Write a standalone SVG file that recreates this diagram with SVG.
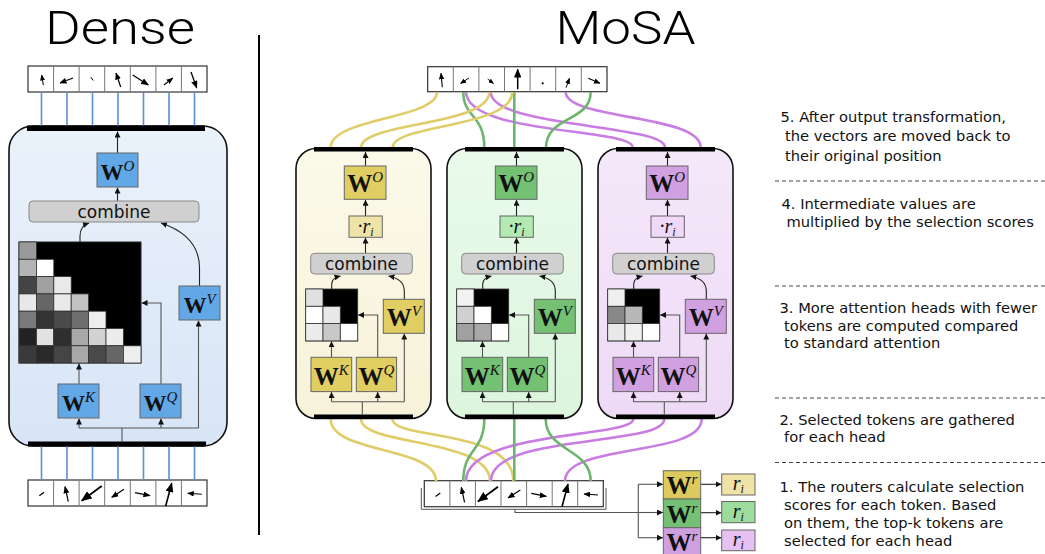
<svg xmlns="http://www.w3.org/2000/svg" xmlns:xlink="http://www.w3.org/1999/xlink" width="1045" height="554" viewBox="0 0 1045 554">
  <style>
    .title{font-family:Roboto,"Open Sans","Liberation Sans",sans-serif;font-weight:300;font-size:47px;text-anchor:middle;fill:#000}
    .cell{fill:#fff;stroke:#333;stroke-width:1.2}
    .div{stroke:#777;stroke-width:1}
    .ta{stroke:#000;fill:none;marker-end:url(#th)}
    .tn{stroke:#000;fill:none}
    .ln{stroke:#555;stroke-width:1.1;fill:none}
    .lk{stroke:#222;stroke-width:1.1;fill:none}
    .arr{marker-end:url(#sh)}
    .bar{fill:#000}
    .wb{stroke:#666;stroke-width:1}
    .wt{font-family:"Liberation Serif","DejaVu Serif",serif;font-weight:bold;font-size:25px;text-anchor:middle;fill:#111}
    .wd{font-size:23px}
    .sup{font-style:italic;font-weight:normal;font-size:15px}
    .rt{font-family:"Liberation Serif","DejaVu Serif",serif;font-style:italic;font-size:20px;text-anchor:middle;fill:#111}
    .sub{font-size:12px}
    .cmb{fill:#d0d0d0;stroke:#888;stroke-width:1}
    .ct{font-family:"DejaVu Sans",Verdana,sans-serif;font-size:17px;text-anchor:middle;fill:#111}
    .mc{stroke:#333;stroke-width:0.8}
    .note{font-family:"DejaVu Sans",Verdana,sans-serif;font-size:14.7px;fill:#111}
    .dash{stroke:#444;stroke-width:1;stroke-dasharray:4 3}
    .blue{stroke:#5b8ed8;stroke-width:1.6}
    .cy{stroke:#e0cc68;stroke-width:2.6;fill:none}
    .cg{stroke:#6cb56c;stroke-width:2.6;fill:none}
    .cp{stroke:#c97de2;stroke-width:2.6;fill:none}
    .wblue{fill:#62a7e6}
    .wy{fill:#e0ce62}
    .wg{fill:#74c174}
    .wp{fill:#d0a0e0}
  </style>
  <defs>
    <marker id="th" viewBox="0 0 6 5" refX="5.5" refY="2.5" markerWidth="6" markerHeight="5" orient="auto" markerUnits="strokeWidth">
      <path d="M0,0 L6,2.5 L0,5 z" fill="#000"/>
    </marker>
    <marker id="sh" viewBox="0 0 6 6" refX="6" refY="3" markerWidth="6" markerHeight="6" orient="auto" markerUnits="userSpaceOnUse">
      <path d="M0,0 L6,3 L0,6 z" fill="#111"/>
    </marker>
    <linearGradient id="gBlue" x1="0" y1="0" x2="0" y2="1">
      <stop offset="0" stop-color="#eaf2fb"/>
      <stop offset="1" stop-color="#d8e5f6"/>
    </linearGradient>
    <linearGradient id="gYel" x1="0" y1="0" x2="0" y2="1">
      <stop offset="0" stop-color="#fbf9e9"/>
      <stop offset="1" stop-color="#f7f2d9"/>
    </linearGradient>
    <linearGradient id="gGrn" x1="0" y1="0" x2="0" y2="1">
      <stop offset="0" stop-color="#eafaeb"/>
      <stop offset="1" stop-color="#dcf5dd"/>
    </linearGradient>
    <linearGradient id="gPur" x1="0" y1="0" x2="0" y2="1">
      <stop offset="0" stop-color="#f5e8fa"/>
      <stop offset="1" stop-color="#eedaf6"/>
    </linearGradient>
    <!-- input token row (7 vectors), local coordinates -->
    <g id="rowIn">
      <rect class="cell" x="0" y="0" width="179" height="26"/>
      <path class="div" d="M25.6,0V26M51.1,0V26M76.7,0V26M102.3,0V26M127.9,0V26M153.4,0V26"/>
      <line class="tn" stroke-width="1.2" x1="16" y1="12.3" x2="11.3" y2="15.7"/>
      <line class="ta" stroke-width="1.2" x1="40.3" y1="21.7" x2="37" y2="6.7"/>
      <line class="ta" stroke-width="1.8" x1="73.7" y1="6" x2="53.7" y2="20.7"/>
      <line class="ta" stroke-width="1.2" x1="96" y1="9.3" x2="83.7" y2="17.3"/>
      <line class="ta" stroke-width="1.2" x1="107" y1="12.7" x2="122" y2="15.7"/>
      <line class="ta" stroke-width="1.6" x1="137.7" y1="26" x2="143.7" y2="3.3"/>
      <line class="ta" stroke-width="1.1" x1="173.7" y1="14.3" x2="159.7" y2="13.3"/>
    </g>
  </defs>

  <rect width="1045" height="554" fill="#fff"/>

  <!-- titles and separator -->
  <text class="title" x="120" y="44" textLength="150" lengthAdjust="spacingAndGlyphs">Dense</text>
  <text class="title" x="625.5" y="44" textLength="140" lengthAdjust="spacingAndGlyphs">MoSA</text>
  <line x1="259" y1="35" x2="259" y2="535" stroke="#000" stroke-width="2"/>

  <!-- ================= Dense attention ================= -->
  <g id="dense-out-tokens">
    <rect class="cell" x="28" y="66" width="179" height="26"/>
    <path class="div" d="M53.6,66V92M79.1,66V92M104.7,66V92M130.3,66V92M155.9,66V92M181.4,66V92"/>
    <line class="ta" stroke-width="1" x1="43.3" y1="85" x2="41.7" y2="75"/>
    <line class="ta" stroke-width="1.2" x1="73" y1="78" x2="60" y2="83"/>
    <line class="tn" stroke-width="1" x1="90.7" y1="77" x2="93.3" y2="80.5"/>
    <line class="ta" stroke-width="1.2" x1="120.7" y1="87" x2="116" y2="73"/>
    <line class="ta" stroke-width="1.3" x1="132.7" y1="75" x2="148.3" y2="85"/>
    <line class="ta" stroke-width="1.1" x1="164" y1="85" x2="172.7" y2="78"/>
    <line class="ta" stroke-width="1.3" x1="191" y1="72" x2="196.7" y2="88"/>
  </g>

  <g id="dense-in-tokens">
    <use xlink:href="#rowIn" x="28" y="480"/>
  </g>

  <g id="dense-block">
    <rect x="9" y="126" width="218" height="320" rx="24" fill="url(#gBlue)" stroke="#111" stroke-width="1.6"/>
    <rect class="bar" x="27" y="125.5" width="178" height="5.5"/>
    <rect class="bar" x="28" y="441.5" width="178" height="5"/>
  </g>

  <g id="dense-inner-links">
    <line class="lk arr" x1="117.5" y1="153" x2="117.5" y2="131.5"/>
    <line class="lk arr" x1="117.5" y1="201" x2="117.5" y2="187.5"/>
    <path class="lk arr" d="M80,242 V236 Q80,226 89,223"/>
    <path class="lk arr" d="M199.5,286 V268 C199.5,246 185,231 161,223"/>
    <line class="ln arr" x1="79" y1="384" x2="79" y2="363.5"/>
    <path class="ln arr" d="M161,384 V303 H141.5"/>
    <path class="ln" d="M122,441.5 V428 M79,428 H198.5"/>
    <path class="ln arr" d="M79,428 V418.5"/>
    <path class="ln arr" d="M161,428 V418.5"/>
    <path class="ln arr" d="M198.5,428 V320.5"/>
  </g>

  <g id="dense-wo">
    <rect class="wb wblue" x="97" y="153" width="41" height="34"/>
    <text class="wt wd" x="117.5" y="180">W<tspan class="sup" dy="-9">O</tspan></text>
  </g>
  <g id="dense-combine">
    <rect class="cmb" x="29" y="201" width="170" height="21" rx="4"/>
    <text class="ct" x="114" y="217.5">combine</text>
  </g>
  <g id="dense-scores">
    <rect x="19" y="242" width="122" height="121" fill="#000" stroke="#222" stroke-width="1"/>
    <g class="mc">
      <rect x="19" y="242" width="17.4" height="17.3" fill="#9a9a9a"/>
      <rect x="19" y="259.3" width="17.4" height="17.3" fill="#b4b4b4"/>
      <rect x="36.4" y="259.3" width="17.4" height="17.3" fill="#ffffff"/>
      <rect x="19" y="276.6" width="17.4" height="17.3" fill="#444444"/>
      <rect x="36.4" y="276.6" width="17.4" height="17.3" fill="#a0a0a0"/>
      <rect x="53.8" y="276.6" width="17.4" height="17.3" fill="#e9e9e9"/>
      <rect x="19" y="293.9" width="17.4" height="17.3" fill="#e8e8e8"/>
      <rect x="36.4" y="293.9" width="17.4" height="17.3" fill="#666666"/>
      <rect x="53.8" y="293.9" width="17.4" height="17.3" fill="#e9e9e9"/>
      <rect x="71.2" y="293.9" width="17.4" height="17.3" fill="#c2c2c2"/>
      <rect x="19" y="311.2" width="17.4" height="17.3" fill="#7a7a7a"/>
      <rect x="36.4" y="311.2" width="17.4" height="17.3" fill="#333333"/>
      <rect x="53.8" y="311.2" width="17.4" height="17.3" fill="#4a4a4a"/>
      <rect x="71.2" y="311.2" width="17.4" height="17.3" fill="#6e6e6e"/>
      <rect x="88.6" y="311.2" width="17.4" height="17.3" fill="#eeeeee"/>
      <rect x="19" y="328.5" width="17.4" height="17.3" fill="#222222"/>
      <rect x="36.4" y="328.5" width="17.4" height="17.3" fill="#e2e2e2"/>
      <rect x="53.8" y="328.5" width="17.4" height="17.3" fill="#2e2e2e"/>
      <rect x="71.2" y="328.5" width="17.4" height="17.3" fill="#a8a8a8"/>
      <rect x="88.6" y="328.5" width="17.4" height="17.3" fill="#d2d2d2"/>
      <rect x="106" y="328.5" width="17.4" height="17.3" fill="#ececec"/>
      <rect x="19" y="345.8" width="17.4" height="17.2" fill="#3a3a3a"/>
      <rect x="36.4" y="345.8" width="17.4" height="17.2" fill="#2a2a2a"/>
      <rect x="53.8" y="345.8" width="17.4" height="17.2" fill="#454545"/>
      <rect x="71.2" y="345.8" width="17.4" height="17.2" fill="#a8a8a8"/>
      <rect x="88.6" y="345.8" width="17.4" height="17.2" fill="#4a4a4a"/>
      <rect x="106" y="345.8" width="17.4" height="17.2" fill="#666666"/>
      <rect x="123.4" y="345.8" width="17.6" height="17.2" fill="#eeeeee"/>
    </g>
  </g>
  <g id="dense-wv">
    <rect class="wb wblue" x="179" y="286" width="41" height="34"/>
    <text class="wt wd" x="199.5" y="313">W<tspan class="sup" dy="-9">V</tspan></text>
  </g>
  <g id="dense-wk">
    <rect class="wb wblue" x="58" y="384" width="41" height="34"/>
    <text class="wt wd" x="78.5" y="411">W<tspan class="sup" dy="-9">K</tspan></text>
  </g>
  <g id="dense-wq">
    <rect class="wb wblue" x="140" y="384" width="41" height="34"/>
    <text class="wt wd" x="160.5" y="411">W<tspan class="sup" dy="-9">Q</tspan></text>
  </g>

  <!-- ================= MoSA ================= -->
  <g id="mosa-out-tokens">
    <rect class="cell" x="427.7" y="66.7" width="179.3" height="25"/>
    <path class="div" d="M453.3,66.7V91.7M478.9,66.7V91.7M504.5,66.7V91.7M530.1,66.7V91.7M555.7,66.7V91.7M581.3,66.7V91.7"/>
    <line class="ta" stroke-width="1.1" x1="442.3" y1="87.3" x2="441" y2="73.3"/>
    <line class="ta" stroke-width="1" x1="469" y1="78" x2="460.5" y2="83.5"/>
    <line class="ta" stroke-width="0.9" x1="487.7" y1="79" x2="493.5" y2="83.5"/>
    <line class="ta" stroke-width="1.5" x1="517.7" y1="89.3" x2="517.7" y2="69.3"/>
    <circle cx="542.7" cy="83.3" r="1.1" fill="#000"/>
    <line class="ta" stroke-width="1" x1="566" y1="87.7" x2="569.5" y2="78.3"/>
    <line class="ta" stroke-width="1.1" x1="588.3" y1="78.3" x2="600" y2="83.3"/>
  </g>

  <g id="mosa-in-tokens">
    <path d="M421.3,488 V509.3 H606 V488" fill="none" stroke="#555" stroke-width="1"/>
    <use xlink:href="#rowIn" x="424.3" y="480.7"/>
  </g>

  <!-- token routing between the sequence and the heads -->
  <g id="connectors">
    <line class="blue" x1="41.5" y1="92" x2="41.5" y2="125.5"/>
    <line class="blue" x1="67" y1="92" x2="67" y2="125.5"/>
    <line class="blue" x1="92.5" y1="92" x2="92.5" y2="125.5"/>
    <line class="blue" x1="118" y1="92" x2="118" y2="125.5"/>
    <line class="blue" x1="143.5" y1="92" x2="143.5" y2="125.5"/>
    <line class="blue" x1="169" y1="92" x2="169" y2="125.5"/>
    <line class="blue" x1="194.5" y1="92" x2="194.5" y2="125.5"/>
    <line class="blue" x1="41.5" y1="446.5" x2="41.5" y2="480"/>
    <line class="blue" x1="67" y1="446.5" x2="67" y2="480"/>
    <line class="blue" x1="92.5" y1="446.5" x2="92.5" y2="480"/>
    <line class="blue" x1="118" y1="446.5" x2="118" y2="480"/>
    <line class="blue" x1="143.5" y1="446.5" x2="143.5" y2="480"/>
    <line class="blue" x1="169" y1="446.5" x2="169" y2="480"/>
    <line class="blue" x1="194.5" y1="446.5" x2="194.5" y2="480"/>

    <!-- outputs back to their positions -->
    <path class="cp" d="M466,92 C467,135 632.7,128 632.7,147.5"/>
    <path class="cp" d="M490.7,92 C491,128 665,124 665,147.5"/>
    <path class="cp" d="M565.7,92 C565.7,120 700.7,114 700.7,147.5"/>
    <path class="cg" d="M463.3,92 C463.3,118 484.3,114 484.3,147.5"/>
    <path class="cg" d="M514.3,92 V147.5"/>
    <path class="cg" d="M590.7,92 C590.7,122 546,116 546,147.5"/>
    <path class="cy" d="M437,92 C437,119 330.7,118 330.7,147.5"/>
    <path class="cy" d="M489.3,92 C489.3,126 361,122 361,147.5"/>
    <path class="cy" d="M512.3,92 C512.3,128 392.7,124 392.7,147.5"/>

    <!-- gathered tokens into the heads -->
    <path class="cy" d="M330.7,419 C330.7,454 436,446 436,481"/>
    <path class="cy" d="M361,419 C361,446 490,438 490,481"/>
    <path class="cy" d="M392.3,419 C392.3,440 513.3,428 513.3,481"/>
    <path class="cp" d="M633.3,419 C633.3,438 466,430 466,481"/>
    <path class="cp" d="M664.3,419 C664.3,447 491,433 491,481"/>
    <path class="cp" d="M701.7,419 C701.7,457 565,443 565,481"/>
    <path class="cg" d="M484.3,419 C484.3,452 463.3,448 463.3,481"/>
    <path class="cg" d="M514.3,419 V481"/>
    <path class="cg" d="M545.7,419 C545.7,452 590.7,448 590.7,481"/>

    <!-- router feed -->
    <path class="ln" d="M515,509.3 V512.5 H638.3 M638.3,484.3 V537.7"/>
    <line class="ln arr" x1="638.3" y1="484.3" x2="663" y2="484.3"/>
    <line class="ln arr" x1="638.3" y1="512.5" x2="663" y2="512.5"/>
    <line class="ln arr" x1="638.3" y1="537.7" x2="663" y2="537.7"/>
    <line class="lk arr" x1="700.7" y1="484.3" x2="721.5" y2="484.3"/>
    <line class="lk arr" x1="700.7" y1="512.7" x2="721.5" y2="512.7"/>
    <line class="lk arr" x1="700.7" y1="537.7" x2="721.5" y2="537.7"/>
  </g>

  <!-- head 1 (yellow) -->
  <g id="head-1">
    <rect x="296" y="148.5" width="135" height="270" rx="20" fill="url(#gYel)" stroke="#111" stroke-width="1.6"/>
    <rect class="bar" x="314" y="147" width="99" height="4.5"/>
    <rect class="bar" x="314" y="414.5" width="99" height="4.5"/>
    <line class="lk arr" x1="365.5" y1="166" x2="365.5" y2="152"/>
    <line class="lk arr" x1="365.5" y1="216" x2="365.5" y2="199.8"/>
    <line class="lk arr" x1="365.5" y1="253.3" x2="365.5" y2="237.6"/>
    <path class="lk arr" d="M331.7,289 V284 Q331.7,278 340.5,276"/>
    <path class="lk arr" d="M404.3,299.3 V291 Q404.3,279 388.5,276"/>
    <line class="ln arr" x1="331.5" y1="357.3" x2="331.5" y2="341.2"/>
    <path class="ln arr" d="M377.7,357.3 V315 H358"/>
    <path class="ln" d="M362.3,414.5 V401.7 M331.5,401.7 H404.3"/>
    <path class="ln arr" d="M331.5,401.7 V392"/>
    <path class="ln arr" d="M377.7,401.7 V392"/>
    <path class="ln arr" d="M404.3,401.7 V333.6"/>
    <g id="head-1-wo"><rect class="wb wy" x="344.3" y="166" width="41.7" height="33.3"/>
      <text class="wt" x="365.2" y="192">W<tspan class="sup" dy="-10">O</tspan></text></g>
    <g id="head-1-scale"><rect class="wb" fill="#efe4a8" x="349" y="216" width="33.3" height="21.3"/>
      <text class="rt" x="365.5" y="232.5">·r<tspan class="sub" dy="3">i</tspan></text></g>
    <g id="head-1-combine"><rect class="cmb" x="310.7" y="253.3" width="101.6" height="20.7" rx="4"/>
      <text class="ct" x="361.5" y="269.5">combine</text></g>
    <g id="head-1-scores" class="mc">
      <rect x="305.7" y="289" width="52" height="52" fill="#000"/>
      <rect x="305.7" y="289" width="17.3" height="17.3" fill="#e0e0e0"/>
      <rect x="305.7" y="306.3" width="17.3" height="17.3" fill="#ffffff"/>
      <rect x="323" y="306.3" width="17.3" height="17.3" fill="#e8e8e8"/>
      <rect x="305.7" y="323.6" width="17.3" height="17.3" fill="#ececec"/>
      <rect x="323" y="323.6" width="17.3" height="17.3" fill="#c8c8c8"/>
      <rect x="340.3" y="323.6" width="17.4" height="17.3" fill="#ffffff"/>
    </g>
    <g id="head-1-wv"><rect class="wb wy" x="383.3" y="299.3" width="41" height="34"/>
      <text class="wt" x="403.8" y="326">W<tspan class="sup" dy="-10">V</tspan></text></g>
    <g id="head-1-wk"><rect class="wb wy" x="311" y="357.3" width="40.7" height="34.3"/>
      <text class="wt" x="331.3" y="384.5">W<tspan class="sup" dy="-10">K</tspan></text></g>
    <g id="head-1-wq"><rect class="wb wy" x="356.3" y="357.3" width="40.3" height="34.3"/>
      <text class="wt" x="376.5" y="384.5">W<tspan class="sup" dy="-10">Q</tspan></text></g>
  </g>

  <!-- head 2 (green) -->
  <g id="head-2" transform="translate(151,0)">
    <rect x="296" y="148.5" width="135" height="270" rx="20" fill="url(#gGrn)" stroke="#111" stroke-width="1.6"/>
    <rect class="bar" x="314" y="147" width="99" height="4.5"/>
    <rect class="bar" x="314" y="414.5" width="99" height="4.5"/>
    <line class="lk arr" x1="365.5" y1="166" x2="365.5" y2="152"/>
    <line class="lk arr" x1="365.5" y1="216" x2="365.5" y2="199.8"/>
    <line class="lk arr" x1="365.5" y1="253.3" x2="365.5" y2="237.6"/>
    <path class="lk arr" d="M331.7,289 V284 Q331.7,278 340.5,276"/>
    <path class="lk arr" d="M404.3,299.3 V291 Q404.3,279 388.5,276"/>
    <line class="ln arr" x1="331.5" y1="357.3" x2="331.5" y2="341.2"/>
    <path class="ln arr" d="M377.7,357.3 V315 H358"/>
    <path class="ln" d="M362.3,414.5 V401.7 M331.5,401.7 H404.3"/>
    <path class="ln arr" d="M331.5,401.7 V392"/>
    <path class="ln arr" d="M377.7,401.7 V392"/>
    <path class="ln arr" d="M404.3,401.7 V333.6"/>
    <g id="head-2-wo"><rect class="wb wg" x="344.3" y="166" width="41.7" height="33.3"/>
      <text class="wt" x="365.2" y="192">W<tspan class="sup" dy="-10">O</tspan></text></g>
    <g id="head-2-scale"><rect class="wb" fill="#b3eab3" x="349" y="216" width="33.3" height="21.3"/>
      <text class="rt" x="365.5" y="232.5">·r<tspan class="sub" dy="3">i</tspan></text></g>
    <g id="head-2-combine"><rect class="cmb" x="310.7" y="253.3" width="101.6" height="20.7" rx="4"/>
      <text class="ct" x="361.5" y="269.5">combine</text></g>
    <g id="head-2-scores" class="mc">
      <rect x="305.7" y="289" width="52" height="52" fill="#000"/>
      <rect x="305.7" y="289" width="17.3" height="17.3" fill="#f2f2f2"/>
      <rect x="305.7" y="306.3" width="17.3" height="17.3" fill="#d0d0d0"/>
      <rect x="323" y="306.3" width="17.3" height="17.3" fill="#ffffff"/>
      <rect x="305.7" y="323.6" width="17.3" height="17.3" fill="#a0a0a0"/>
      <rect x="323" y="323.6" width="17.3" height="17.3" fill="#a8a8a8"/>
      <rect x="340.3" y="323.6" width="17.4" height="17.3" fill="#ffffff"/>
    </g>
    <g id="head-2-wv"><rect class="wb wg" x="383.3" y="299.3" width="41" height="34"/>
      <text class="wt" x="403.8" y="326">W<tspan class="sup" dy="-10">V</tspan></text></g>
    <g id="head-2-wk"><rect class="wb wg" x="311" y="357.3" width="40.7" height="34.3"/>
      <text class="wt" x="331.3" y="384.5">W<tspan class="sup" dy="-10">K</tspan></text></g>
    <g id="head-2-wq"><rect class="wb wg" x="356.3" y="357.3" width="40.3" height="34.3"/>
      <text class="wt" x="376.5" y="384.5">W<tspan class="sup" dy="-10">Q</tspan></text></g>
  </g>

  <!-- head 3 (purple) -->
  <g id="head-3" transform="translate(302,0)">
    <rect x="296" y="148.5" width="135" height="270" rx="20" fill="url(#gPur)" stroke="#111" stroke-width="1.6"/>
    <rect class="bar" x="314" y="147" width="99" height="4.5"/>
    <rect class="bar" x="314" y="414.5" width="99" height="4.5"/>
    <line class="lk arr" x1="365.5" y1="166" x2="365.5" y2="152"/>
    <line class="lk arr" x1="365.5" y1="216" x2="365.5" y2="199.8"/>
    <line class="lk arr" x1="365.5" y1="253.3" x2="365.5" y2="237.6"/>
    <path class="lk arr" d="M331.7,289 V284 Q331.7,278 340.5,276"/>
    <path class="lk arr" d="M404.3,299.3 V291 Q404.3,279 388.5,276"/>
    <line class="ln arr" x1="331.5" y1="357.3" x2="331.5" y2="341.2"/>
    <path class="ln arr" d="M377.7,357.3 V315 H358"/>
    <path class="ln" d="M362.3,414.5 V401.7 M331.5,401.7 H404.3"/>
    <path class="ln arr" d="M331.5,401.7 V392"/>
    <path class="ln arr" d="M377.7,401.7 V392"/>
    <path class="ln arr" d="M404.3,401.7 V333.6"/>
    <g id="head-3-wo"><rect class="wb wp" x="344.3" y="166" width="41.7" height="33.3"/>
      <text class="wt" x="365.2" y="192">W<tspan class="sup" dy="-10">O</tspan></text></g>
    <g id="head-3-scale"><rect class="wb" fill="#f0d8f8" x="349" y="216" width="33.3" height="21.3"/>
      <text class="rt" x="365.5" y="232.5">·r<tspan class="sub" dy="3">i</tspan></text></g>
    <g id="head-3-combine"><rect class="cmb" x="310.7" y="253.3" width="101.6" height="20.7" rx="4"/>
      <text class="ct" x="361.5" y="269.5">combine</text></g>
    <g id="head-3-scores" class="mc">
      <rect x="305.7" y="289" width="52" height="52" fill="#000"/>
      <rect x="305.7" y="289" width="17.3" height="17.3" fill="#f0f0f0"/>
      <rect x="305.7" y="306.3" width="17.3" height="17.3" fill="#888888"/>
      <rect x="323" y="306.3" width="17.3" height="17.3" fill="#b8b8b8"/>
      <rect x="305.7" y="323.6" width="17.3" height="17.3" fill="#e8e8e8"/>
      <rect x="323" y="323.6" width="17.3" height="17.3" fill="#f0f0f0"/>
      <rect x="340.3" y="323.6" width="17.4" height="17.3" fill="#ffffff"/>
    </g>
    <g id="head-3-wv"><rect class="wb wp" x="383.3" y="299.3" width="41" height="34"/>
      <text class="wt" x="403.8" y="326">W<tspan class="sup" dy="-10">V</tspan></text></g>
    <g id="head-3-wk"><rect class="wb wp" x="311" y="357.3" width="40.7" height="34.3"/>
      <text class="wt" x="331.3" y="384.5">W<tspan class="sup" dy="-10">K</tspan></text></g>
    <g id="head-3-wq"><rect class="wb wp" x="356.3" y="357.3" width="40.3" height="34.3"/>
      <text class="wt" x="376.5" y="384.5">W<tspan class="sup" dy="-10">Q</tspan></text></g>
  </g>

  <!-- routers -->
  <g id="router-1">
    <rect class="wb" fill="#dccb5c" x="663.3" y="470.7" width="37.4" height="28.3"/>
    <text class="wt" x="682" y="494">W<tspan class="sup" dy="-10">r</tspan></text>
  </g>
  <g id="router-2">
    <rect class="wb" fill="#74c074" x="663.3" y="499" width="37.4" height="28.7"/>
    <text class="wt" x="682" y="522.5">W<tspan class="sup" dy="-10">r</tspan></text>
  </g>
  <g id="router-3">
    <rect class="wb" fill="#cfa0df" x="663.3" y="527.7" width="37.4" height="28.3"/>
    <text class="wt" x="682" y="551">W<tspan class="sup" dy="-10">r</tspan></text>
  </g>
  <g id="score-1">
    <rect class="wb" fill="#efe3a8" x="721.7" y="474" width="33.3" height="21"/>
    <text class="rt" x="738.3" y="490">r<tspan class="sub" dy="3">i</tspan></text>
  </g>
  <g id="score-2">
    <rect class="wb" fill="#9cdc9c" x="721.7" y="501.5" width="33.3" height="21.2"/>
    <text class="rt" x="738.3" y="517.5">r<tspan class="sub" dy="3">i</tspan></text>
  </g>
  <g id="score-3">
    <rect class="wb" fill="#e6c2f2" x="721.7" y="530" width="33.3" height="20.7"/>
    <text class="rt" x="738.3" y="545.7">r<tspan class="sub" dy="3">i</tspan></text>
  </g>

  <!-- step descriptions -->
  <g id="notes">
    <text class="note" x="780.5" y="121.5">5. After output transformation,</text>
    <text class="note" x="785" y="141">the vectors are moved back to</text>
    <text class="note" x="785" y="160.5">their original position</text>
    <line class="dash" x1="775" y1="181" x2="1045" y2="181"/>
    <text class="note" x="781.5" y="208.5">4. Intermediate values are</text>
    <text class="note" x="786.5" y="227">multiplied by the selection scores</text>
    <line class="dash" x1="775" y1="286" x2="1045" y2="286"/>
    <text class="note" x="779.5" y="312.5">3. More attention heads with fewer</text>
    <text class="note" x="784" y="330.5">tokens are computed compared</text>
    <text class="note" x="784" y="348">to standard attention</text>
    <line class="dash" x1="775" y1="398" x2="1045" y2="398"/>
    <text class="note" x="779.5" y="425">2. Selected tokens are gathered</text>
    <text class="note" x="784" y="442">for each head</text>
    <line class="dash" x1="775" y1="462.5" x2="1045" y2="462.5"/>
    <text class="note" x="779.5" y="491.5">1. The routers calculate selection</text>
    <text class="note" x="784" y="509.5">scores for each token. Based</text>
    <text class="note" x="784" y="527.5">on them, the top-k tokens are</text>
    <text class="note" x="784" y="545.5">selected for each head</text>
  </g>
</svg>
